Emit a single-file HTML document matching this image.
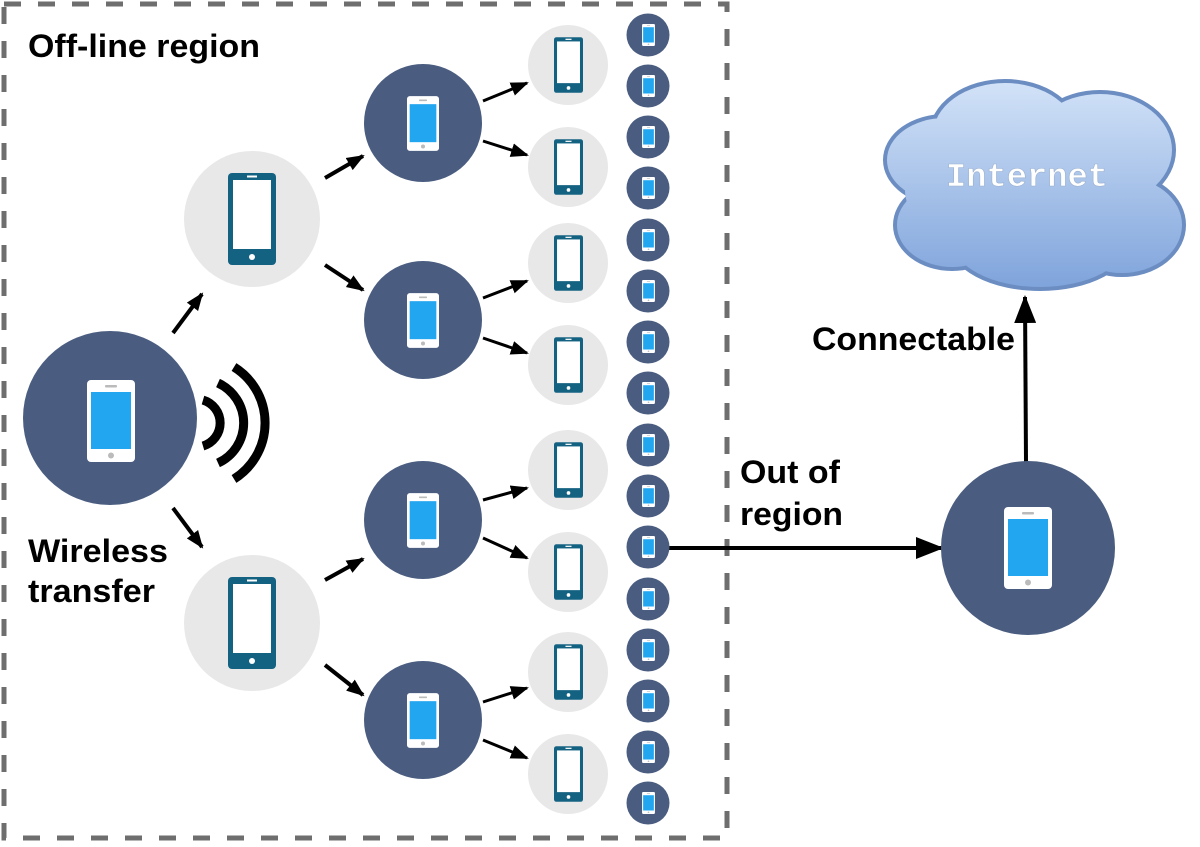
<!DOCTYPE html>
<html><head><meta charset="utf-8"><style>html,body{margin:0;padding:0;background:#fff}svg{display:block}</style></head><body>
<svg width="1200" height="847" viewBox="0 0 1200 847" xmlns="http://www.w3.org/2000/svg">
<defs>
<marker id="ah" markerUnits="userSpaceOnUse" markerWidth="20" markerHeight="16" refX="16" refY="8" orient="auto"><path d="M0,1 L18,8 L0,15 Z" fill="#000"/></marker>
<marker id="ah2" markerUnits="userSpaceOnUse" markerWidth="28" markerHeight="22" refX="26" refY="11" orient="auto"><path d="M0,0 L28,11 L0,22 Z" fill="#000"/></marker>
<symbol id="pw" viewBox="0 0 48 82"><rect x="0" y="0" width="48" height="82" rx="4" fill="#fff"/><rect x="4" y="12" width="40" height="57" fill="#22a6f0"/><rect x="18" y="5" width="12" height="2.5" rx="1" fill="#bbb"/><circle cx="24" cy="75.5" r="3" fill="#bbb"/></symbol>
<symbol id="pt" viewBox="0 0 48 92"><rect x="0" y="0" width="48" height="92" rx="4" fill="#146282"/><rect x="5" y="7" width="38" height="69" fill="#fff"/><rect x="19" y="2.5" width="10" height="2" fill="#fff"/><circle cx="24" cy="84" r="3" fill="#fff"/></symbol>
<linearGradient id="cg" x1="0" y1="80" x2="0" y2="290" gradientUnits="userSpaceOnUse"><stop offset="0" stop-color="#d3e3f8"/><stop offset="1" stop-color="#7ea3db"/></linearGradient>
</defs>
<rect x="4" y="4" width="723" height="834" fill="none" stroke="#6e6e6e" stroke-width="5" stroke-dasharray="17 17"/>
<g font-family="Liberation Sans, sans-serif" font-weight="bold" font-size="32" lengthAdjust="spacingAndGlyphs">
<text x="28" y="57" textLength="232" lengthAdjust="spacingAndGlyphs">Off-line region</text>
<text x="28" y="562" textLength="140" lengthAdjust="spacingAndGlyphs">Wireless</text>
<text x="28" y="602" textLength="127" lengthAdjust="spacingAndGlyphs">transfer</text>
<text x="740" y="483" textLength="100" lengthAdjust="spacingAndGlyphs">Out of</text>
<text x="740" y="525" textLength="103" lengthAdjust="spacingAndGlyphs">region</text>
<text x="812" y="350" textLength="203" lengthAdjust="spacingAndGlyphs">Connectable</text>
</g>
<circle cx="110" cy="418" r="87" fill="#4a5d80"/>
<use href="#pw" x="87" y="380" width="48" height="82"/>
<g fill="none" stroke="#000" stroke-width="9">
<path d="M203,400 A24,24 0 0 1 203,446"/>
<path d="M218,383 A44,44 0 0 1 218,463"/>
<path d="M234,367 A66,66 0 0 1 234,479"/>
</g>
<g stroke="#000" stroke-width="4" marker-end="url(#ah)">
<line x1="173" y1="333" x2="202" y2="294"/>
<line x1="173" y1="508" x2="202" y2="547"/>
<line x1="325" y1="178" x2="363" y2="156"/>
<line x1="325" y1="265" x2="363" y2="290"/>
<line x1="325" y1="580" x2="363" y2="559"/>
<line x1="325" y1="665" x2="363" y2="695"/>
</g>
<circle cx="252" cy="219" r="68" fill="#e8e8e8"/>
<use href="#pt" x="228" y="173" width="48" height="92"/>
<circle cx="252" cy="623" r="68" fill="#e8e8e8"/>
<use href="#pt" x="228" y="577" width="48" height="92"/>
<g fill="#4a5d80">
<circle cx="423" cy="123" r="59"/><circle cx="423" cy="320" r="59"/><circle cx="423" cy="520" r="59"/><circle cx="423" cy="720" r="59"/>
</g>
<use href="#pw" x="407" y="96" width="32" height="55"/>
<use href="#pw" x="407" y="293" width="32" height="55"/>
<use href="#pw" x="407" y="493" width="32" height="55"/>
<use href="#pw" x="407" y="693" width="32" height="55"/>
<g stroke="#000" stroke-width="3" marker-end="url(#ah)">
<line x1="483" y1="101" x2="527" y2="83"/><line x1="483" y1="141" x2="527" y2="155"/>
<line x1="483" y1="298" x2="527" y2="281"/><line x1="483" y1="338" x2="527" y2="353"/>
<line x1="483" y1="500" x2="527" y2="488"/><line x1="483" y1="538" x2="527" y2="558"/>
<line x1="483" y1="702" x2="527" y2="688"/><line x1="483" y1="740" x2="527" y2="758"/>
</g>
<g fill="#e8e8e8">
<circle cx="568" cy="65" r="40"/><circle cx="568" cy="167" r="40"/><circle cx="568" cy="263" r="40"/><circle cx="568" cy="365" r="40"/>
<circle cx="568" cy="470" r="40"/><circle cx="568" cy="572" r="40"/><circle cx="568" cy="672" r="40"/><circle cx="568" cy="774" r="40"/>
</g>
<use href="#pt" x="554" y="37" width="29" height="56"/>
<use href="#pt" x="554" y="139" width="29" height="56"/>
<use href="#pt" x="554" y="235" width="29" height="56"/>
<use href="#pt" x="554" y="337" width="29" height="56"/>
<use href="#pt" x="554" y="442" width="29" height="56"/>
<use href="#pt" x="554" y="544" width="29" height="56"/>
<use href="#pt" x="554" y="644" width="29" height="56"/>
<use href="#pt" x="554" y="746" width="29" height="56"/>
<line x1="668" y1="548" x2="942" y2="548" stroke="#000" stroke-width="4" marker-end="url(#ah2)"/>
<line x1="1026" y1="462" x2="1025" y2="297" stroke="#000" stroke-width="4" marker-end="url(#ah2)"/>
<g fill="#4a5d80">
<circle cx="648" cy="35" r="21.5"/><circle cx="648" cy="86" r="21.5"/><circle cx="648" cy="137" r="21.5"/><circle cx="648" cy="188" r="21.5"/>
<circle cx="648" cy="240" r="21.5"/><circle cx="648" cy="291" r="21.5"/><circle cx="648" cy="342" r="21.5"/><circle cx="648" cy="393" r="21.5"/>
<circle cx="648" cy="445" r="21.5"/><circle cx="648" cy="496" r="21.5"/><circle cx="648" cy="547" r="21.5"/><circle cx="648" cy="599" r="21.5"/>
<circle cx="648" cy="650" r="21.5"/><circle cx="648" cy="701" r="21.5"/><circle cx="648" cy="752" r="21.5"/><circle cx="648" cy="803" r="21.5"/>
</g>
<g>
<use href="#pw" x="642" y="24" width="13" height="22"/><use href="#pw" x="642" y="75" width="13" height="22"/>
<use href="#pw" x="642" y="126" width="13" height="22"/><use href="#pw" x="642" y="177" width="13" height="22"/>
<use href="#pw" x="642" y="229" width="13" height="22"/><use href="#pw" x="642" y="280" width="13" height="22"/>
<use href="#pw" x="642" y="331" width="13" height="22"/><use href="#pw" x="642" y="382" width="13" height="22"/>
<use href="#pw" x="642" y="434" width="13" height="22"/><use href="#pw" x="642" y="485" width="13" height="22"/>
<use href="#pw" x="642" y="536" width="13" height="22"/><use href="#pw" x="642" y="588" width="13" height="22"/>
<use href="#pw" x="642" y="639" width="13" height="22"/><use href="#pw" x="642" y="690" width="13" height="22"/>
<use href="#pw" x="642" y="741" width="13" height="22"/><use href="#pw" x="642" y="792" width="13" height="22"/>
</g>
<circle cx="1028" cy="548" r="87" fill="#4a5d80"/>
<use href="#pw" x="1004" y="507" width="48" height="82"/>
<g stroke="#6b8dc2" stroke-width="8" fill="none">
<ellipse cx="945" cy="160" rx="58" ry="42"/><ellipse cx="1005" cy="135" rx="72" ry="52"/>
<ellipse cx="1100" cy="150" rx="72" ry="56"/><ellipse cx="1122" cy="225" rx="60" ry="48"/>
<ellipse cx="1040" cy="240" rx="88" ry="47"/><ellipse cx="952" cy="225" rx="55" ry="42"/>
</g>
<g fill="url(#cg)">
<ellipse cx="945" cy="160" rx="58" ry="42"/><ellipse cx="1005" cy="135" rx="72" ry="52"/>
<ellipse cx="1100" cy="150" rx="72" ry="56"/><ellipse cx="1122" cy="225" rx="60" ry="48"/>
<ellipse cx="1040" cy="240" rx="88" ry="47"/><ellipse cx="952" cy="225" rx="55" ry="42"/>
<ellipse cx="1030" cy="190" rx="125" ry="70"/>
</g>
<text x="1027" y="186" text-anchor="middle" font-family="Liberation Mono, monospace" font-weight="bold" font-size="33" fill="#fff" stroke="#9ab0d0" stroke-width="0.6" textLength="162" lengthAdjust="spacingAndGlyphs">Internet</text>
</svg>
</body></html>
